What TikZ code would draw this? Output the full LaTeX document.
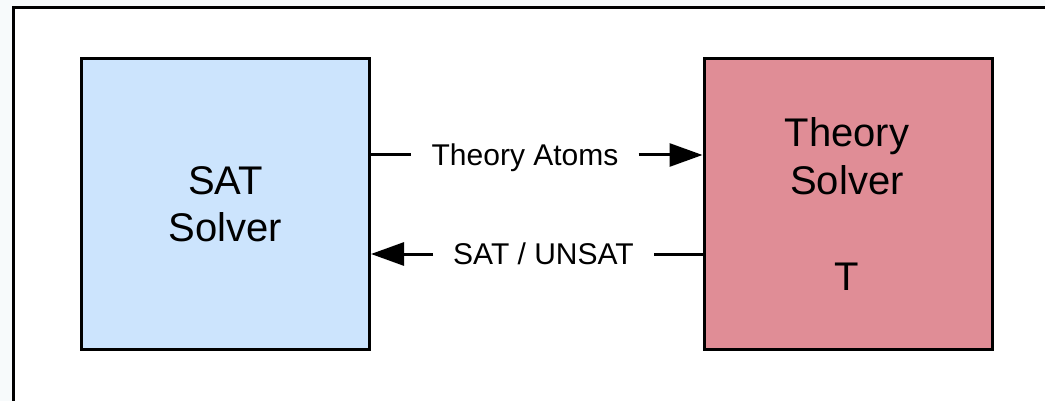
\documentclass[tikz,border=0pt]{standalone}
\usepackage{fontspec}
\setmainfont{Liberation Sans}
\usetikzlibrary{arrows.meta}
\definecolor{pagebg}{RGB}{247,250,251}
\definecolor{satblue}{RGB}{204,228,253}
\definecolor{thypink}{RGB}{224,141,150}

\begin{document}
\begin{tikzpicture}[x=1pt,y=-1pt,
  solverbox/.style={draw=black, line width=3pt, minimum width=288pt,
    minimum height=291pt, inner sep=0pt, outer sep=1.5pt},
  bigtext/.style={font=\fontsize{40}{47}\selectfont, anchor=base, inner sep=0pt},
  flowlabel/.style={font=\fontsize{30}{36}\selectfont, text height=21.5pt,
    text depth=0pt, inner xsep=20pt, inner ysep=4pt},
  link/.style={line width=3pt},
  flow/.style={link, -{Triangle[length=33pt,width=23pt]}}
]
\useasboundingbox (0,0) rectangle (1045,401);
\clip (0,0) rectangle (1045,401);

% page background and the open frame
\fill[pagebg] (0,0) rectangle (1045,401);
\fill[white] (13.5,7.5) rectangle (1050,410);
\draw[line width=3pt] (13.5,410) -- (13.5,7.5) -- (1050,7.5);

% solver boxes
\node[solverbox, fill=satblue] (sat) at (225.5,204) {};
\node[solverbox, fill=thypink] (thy) at (848,204) {};

\node[bigtext] (satl1) at (225.5,194) {SAT};
\node[bigtext] (satl2) at (225.5,241) {Solver};
\node[bigtext] (thyl1) at (847,147) {Theory};
\node[bigtext] (thyl2) at (847,194) {Solver};
\node[bigtext] (thyt) at (847,290) {T};

% communication between the solvers
\node[flowlabel] (atoms) at (525,155) {Theory Atoms};
\node[flowlabel] (result) at (543.5,254) {SAT / UNSAT};

\draw[link] (sat.east |- atoms) -- (atoms.west);
\draw[flow] (atoms.east) -- (thy.west |- atoms);
\draw[link] (thy.west |- result) -- (result.east);
\draw[flow] (result.west) -- (sat.east |- result);
\end{tikzpicture}
\end{document}
